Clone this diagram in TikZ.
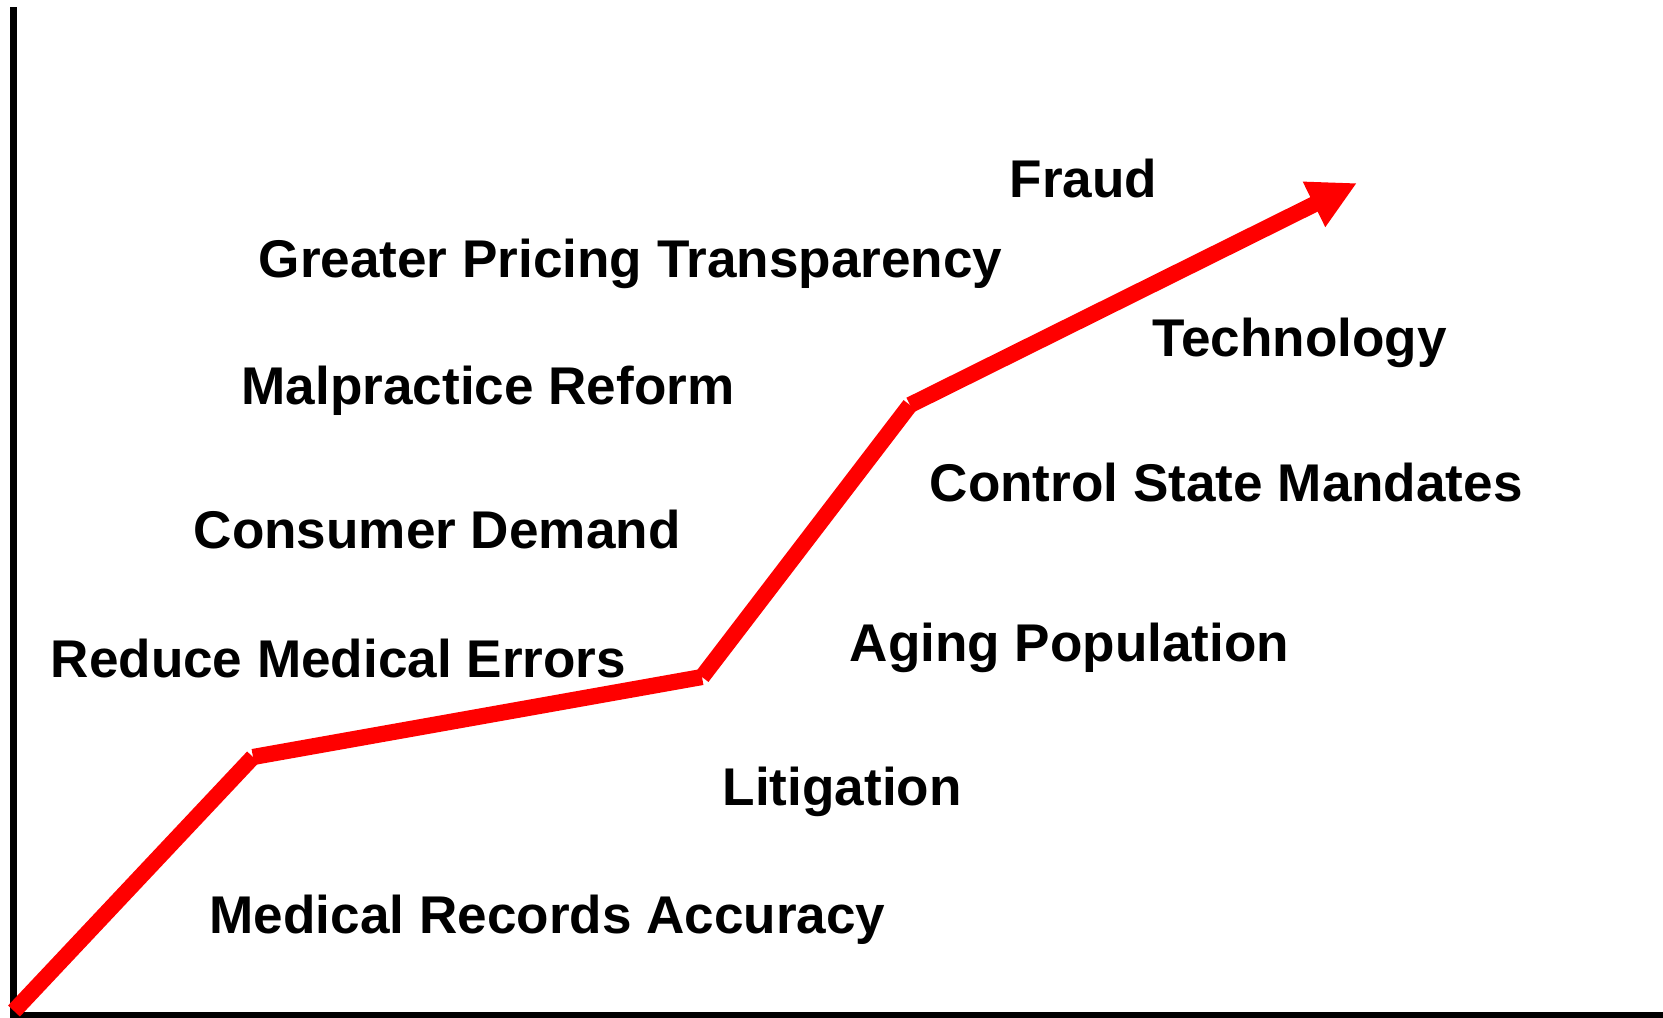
\documentclass[tikz,border=0pt]{standalone}
\usepackage{fontspec}
\setmainfont{Liberation Sans}
\usetikzlibrary{arrows.meta}
\tikzset{
    factor/.style={anchor=base west, inner sep=0pt, font=\fontsize{15.1}{18}\selectfont\bfseries},
    axis/.style={draw, black, line width=2pt},
    trend/.style={draw, red, line width=4.6pt},
    trendhead/.style={trend, -{Triangle[length=4.8mm, width=4.7mm]}}
}
\begin{document}
\begin{tikzpicture}[x=0.01cm, y=-0.01cm]
\useasboundingbox (0,0) rectangle (1663,1017);

% Axes
\coordinate (ytop) at (13.5,7);
\coordinate (origin) at (13.5,1015);
\coordinate (xend) at (1663,1015);
\draw[axis] (ytop) -- (origin) -- (xend);

% Rising cost line, one segment at a time
\coordinate (p0) at (14,1011);
\coordinate (p1) at (253,757);
\coordinate (p2) at (702,677);
\coordinate (p3) at (910,405);
\coordinate (p4) at (1357,183);
\draw[trend] (p0) -- (p1);
\draw[trend] (p1) -- (p2);
\draw[trend] (p2) -- (p3);
\draw[trendhead] (p3) -- (p4);

% Cost drivers
\node[factor] (fraud) at (1009,197) {Fraud};
\node[factor] (pricing) at (258,277) {Greater Pricing Transparency};
\node[factor] (tech) at (1152,356) {Technology};
\node[factor] (malpractice) at (241,404) {Malpractice Reform};
\node[factor] (mandates) at (929,501) {Control State Mandates};
\node[factor] (consumer) at (193,548) {Consumer Demand};
\node[factor] (aging) at (849,661) {Aging Population};
\node[factor] (errors) at (50,677) {Reduce Medical Errors};
\node[factor] (litigation) at (722,805) {Litigation};
\node[factor] (records) at (209,933) {Medical Records Accuracy};
\end{tikzpicture}
\end{document}
